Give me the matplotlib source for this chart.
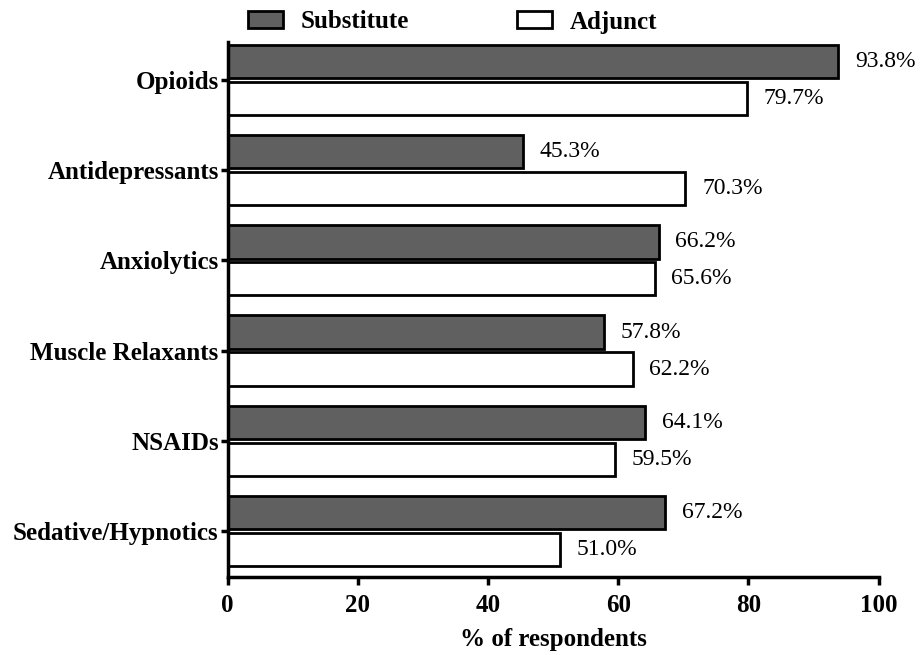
import matplotlib
matplotlib.use("Agg")
import matplotlib.pyplot as plt
import numpy as np

categories = ["Opioids", "Antidepressants", "Anxiolytics", "Muscle Relaxants", "NSAIDs", "Sedative/Hypnotics"]
substitute = [93.8, 45.3, 66.2, 57.8, 64.1, 67.2]
adjunct = [79.7, 70.3, 65.6, 62.2, 59.5, 51.0]
xticks = [0, 20, 40, 60, 80, 100]

plt.rcParams['font.family'] = ['Liberation Serif', 'DejaVu Serif']

fig = plt.figure(figsize=(9.22, 6.55), dpi=100)
ax = fig.add_axes([0.247, 0.119, 0.706, 0.817])

y = np.arange(len(categories))
h = 0.37
off = 0.205
b1 = ax.barh(y - off, substitute, height=h, color="#606060", edgecolor="black", linewidth=2, label="Substitute")
b2 = ax.barh(y + off, adjunct, height=h, color="white", edgecolor="black", linewidth=2, label="Adjunct")

for yy, v in zip(y - off, substitute):
    ax.annotate(f"{v:.1f}%", (v, yy), xytext=(12, 0), textcoords="offset points", va="center", ha="left", fontsize=17)
for yy, v in zip(y + off, adjunct):
    ax.annotate(f"{v:.1f}%", (v, yy), xytext=(12, 0), textcoords="offset points", va="center", ha="left", fontsize=17)

ax.set_xlim(0, 100)
ax.set_ylim(5.51, -0.42)
ax.set_xticks(xticks)
ax.set_xticklabels([str(t) for t in xticks], fontsize=18, fontweight="bold")
ax.set_yticks(y)
ax.set_yticklabels(categories, fontsize=18, fontweight="bold")
ax.set_xlabel("% of respondents", fontsize=18, fontweight="bold", labelpad=8)

for s in ["top", "right"]:
    ax.spines[s].set_visible(False)
for s in ["left", "bottom"]:
    ax.spines[s].set_linewidth(2.5)
ax.tick_params(axis="x", width=2.5, length=6, direction="out", pad=6)
ax.tick_params(axis="y", width=2.5, length=5, direction="out", pad=1.5)

fig.legend(handles=[b1, b2], labels=["Substitute", "Adjunct"], loc="center left",
           bbox_to_anchor=(248 / 922, 1 - 22 / 655), ncol=2, frameon=False,
           borderpad=0, borderaxespad=0,
           prop={"weight": "bold", "size": 18}, handlelength=1.4, handleheight=0.68,
           columnspacing=4.3, handletextpad=0.72)

fig.savefig("out.png", dpi=100)
